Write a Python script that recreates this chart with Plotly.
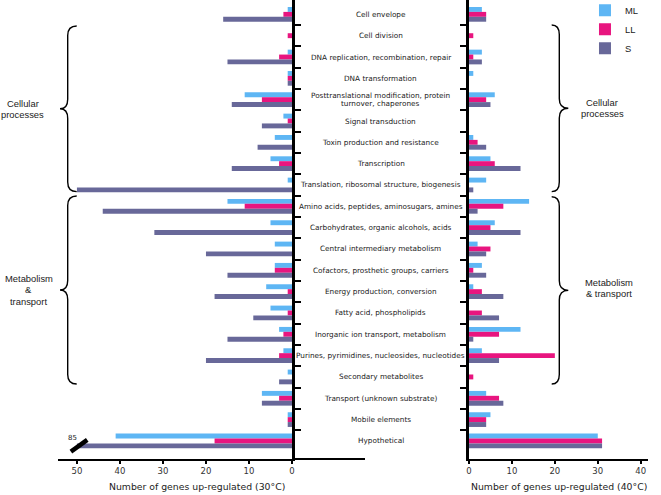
import plotly.graph_objects as go

# ---------------- data ----------------
categories = [
    "Cell envelope",
    "Cell division",
    "DNA replication, recombination, repair",
    "DNA transformation",
    "Posttranslational modification, protein<br>turnover, chaperones",
    "Signal transduction",
    "Toxin production and resistance",
    "Transcription",
    "Translation, ribosomal structure, biogenesis",
    "Amino acids, peptides, aminosugars, amines",
    "Carbohydrates, organic alcohols, acids",
    "Central intermediary metabolism",
    "Cofactors, prosthetic groups, carriers",
    "Energy production, conversion",
    "Fatty acid, phospholipids",
    "Inorganic ion transport, metabolism",
    "Purines, pyrimidines, nucleosides, nucleotides",
    "Secondary metabolites",
    "Transport (unknown substrate)",
    "Mobile elements",
    "Hypothetical",
]

series_names = ["ML", "LL", "S"]

# genes up-regulated at 30 °C (left panel)
ml_30 = [1, 0, 1, 1, 11, 2, 4, 5, 1, 15, 5, 4, 4, 6, 5, 3, 2, 1, 7, 1, 41]
ll_30 = [2, 1, 3, 1, 7, 1, 0, 3, 0, 11, 0, 0, 4, 1, 1, 2, 3, 0, 3, 1, 18]
s_30 = [16, 0, 15, 1, 14, 7, 8, 14, 50, 44, 32, 20, 15, 18, 9, 15, 20, 3, 7, 1, 85]

# genes up-regulated at 40 °C (right panel)
ml_40 = [3, 0, 3, 1, 6, 0, 1, 5, 4, 14, 6, 2, 3, 1, 0, 12, 3, 0, 4, 5, 30]
ll_40 = [4, 1, 1, 0, 4, 0, 2, 6, 0, 8, 5, 5, 1, 3, 3, 7, 20, 1, 7, 4, 31]
s_40 = [4, 0, 3, 0, 5, 0, 4, 12, 1, 2, 12, 4, 4, 8, 7, 1, 7, 0, 8, 4, 31]

x_ticks_30 = [0, 10, 20, 30, 40, 50]
x_ticks_40 = [0, 10, 20, 30, 40]

axis_titles = ["Number of genes up-regulated (30°C)", "Number of genes up-regulated (40°C)"]
group_labels_left = ["Cellular<br>processes", "Metabolism<br>&<br>transport"]
group_labels_right = ["Cellular<br>processes", "Metabolism<br>& transport"]

BREAK_AT = 50  # axis break for very long bars

colors = {"ML": "#5EB6F4", "LL": "#E8157F", "S": "#686899"}

# ---------------- figure ----------------
W, H = 661, 495
PLOT_BOTTOM = 459
pos = list(range(len(categories)))


def px_x(p):
    return p / W


def px_y(p):
    return (PLOT_BOTTOM - p) / PLOT_BOTTOM


fig = go.Figure()

left_vals = {"ML": ml_30, "LL": ll_30, "S": s_30}
right_vals = {"ML": ml_40, "LL": ll_40, "S": s_40}

for name in series_names:
    shown = [min(v, BREAK_AT) for v in left_vals[name]]
    fig.add_trace(go.Bar(
        x=shown, y=pos, orientation="h", name=name,
        marker=dict(color=colors[name], line=dict(width=0)),
        xaxis="x", yaxis="y", legendgroup=name, showlegend=True,
    ))
for name in series_names:
    fig.add_trace(go.Bar(
        x=right_vals[name], y=pos, orientation="h", name=name,
        marker=dict(color=colors[name], line=dict(width=0)),
        xaxis="x2", yaxis="y2", legendgroup=name, showlegend=False,
    ))

tick_font = dict(family="DejaVu Sans", size=8.5, color="#333333")
title_font = dict(family="DejaVu Sans", size=9.3, color="#222222")
y_range = [20.847, -0.673]
boundaries = [i + 0.5 for i in range(len(categories) - 1)]

common_x = dict(
    ticks="outside", ticklen=3, tickwidth=1.5, tickcolor="black",
    showline=True, linewidth=2, linecolor="black", showgrid=False, zeroline=False,
    tickfont=tick_font,
)
common_y = dict(
    range=y_range, domain=[0, 1],
    tickvals=boundaries, showticklabels=False, ticks="outside", ticklen=6,
    tickwidth=1.5, tickcolor="black",
    showline=True, linewidth=2.5, linecolor="black", showgrid=False, zeroline=False,
)

fig.update_layout(
    width=W, height=H,
    margin=dict(l=0, r=0, t=0, b=H - PLOT_BOTTOM, autoexpand=False),
    paper_bgcolor="white", plot_bgcolor="white",
    barmode="group", bargap=0.31, bargroupgap=0,
    xaxis=dict(domain=[px_x(58), px_x(292)], range=[54.4, 0], anchor="y",
               tickvals=x_ticks_30, **common_x),
    xaxis2=dict(domain=[px_x(469), px_x(648)], range=[0, 41.7], anchor="y2",
                tickvals=x_ticks_40, **common_x),
    yaxis=dict(anchor="x", side="right", **common_y),
    yaxis2=dict(anchor="x2", side="left", **common_y),
    legend=dict(
        x=0.885, y=1.009, xanchor="left", yanchor="top",
        font=dict(family="Liberation Sans", size=9.4, color="#222222"),
        bgcolor="rgba(0,0,0,0)", itemwidth=30, tracegroupgap=0,
    ),
    showlegend=True,
)

# baseline of the left panel continues a little under the label column
fig.add_shape(type="line", xref="paper", yref="paper",
              x0=px_x(292), x1=px_x(365), y0=0, y1=0,
              line=dict(color="black", width=2))

# axis titles
fig.add_annotation(x=px_x(196.7), y=px_y(486.7), xref="paper", yref="paper",
                   text=axis_titles[0], showarrow=False, xanchor="center",
                   yanchor="middle", font=title_font)
fig.add_annotation(x=px_x(558.5), y=px_y(486.7), xref="paper", yref="paper",
                   text=axis_titles[1], showarrow=False, xanchor="center",
                   yanchor="middle", font=title_font)


def add_multiline(text, x, y, font, spacing, xref="paper", yref="y"):
    lines = text.split("<br>")
    n = len(lines)
    for k, line in enumerate(lines):
        shift = ((n - 1) / 2 - k) * spacing
        fig.add_annotation(
            x=x, y=y, xref=xref, yref=yref, text=line, showarrow=False,
            xanchor="center", yanchor="middle", yshift=shift, font=font,
        )


# category labels in the centre column
label_font = dict(family="DejaVu Sans", size=7.3, color="#222222")
center_x = px_x(380.5)
for i, cat in enumerate(categories):
    add_multiline(cat, center_x, i, label_font, 8.0)


# curly braces
def brace_path(spine, tip, hook, y0, y1, r):
    s, t, h = px_x(spine), px_x(tip), px_x(hook)
    m = (y0 + y1) / 2
    return (
        f"M {h},{y0} Q {s},{y0} {s},{y0 + r} "
        f"L {s},{m - r} Q {s},{m} {t},{m} "
        f"Q {s},{m} {s},{m + r} "
        f"L {s},{y1 - r} Q {s},{y1} {h},{y1}"
    )


brace_line = dict(color="black", width=1.4)
braces = [
    (67.7, 60.0, 76.7, 0.545, 8.31),
    (67.7, 60.0, 76.7, 8.515, 17.33),
    (559.3, 568.3, 551.7, 0.50, 8.31),
    (559.3, 568.3, 551.7, 8.55, 17.33),
]
for spine, tip, hook, y0, y1 in braces:
    fig.add_shape(type="path", xref="paper", yref="y",
                  path=brace_path(spine, tip, hook, y0, y1, 0.45), line=brace_line)

group_font = dict(family="Liberation Sans", size=9.4, color="#222222")
add_multiline(group_labels_left[0], px_x(22.5), (0.545 + 8.31) / 2, group_font, 10.8)
add_multiline(group_labels_left[1], px_x(28.5), (8.515 + 17.33) / 2, group_font, 11.3)
add_multiline(group_labels_right[0], px_x(602), (0.50 + 8.31) / 2, group_font, 10.8)
add_multiline(group_labels_right[1], px_x(609), (8.55 + 17.33) / 2 - 0.1, group_font, 11.0)

# axis break marker for bars longer than the axis
for i, v in enumerate(s_30):
    if v > BREAK_AT:
        fig.add_shape(type="line", xref="x", yref="y",
                      x0=BREAK_AT + 1.4, y0=i + 0.5, x1=BREAK_AT - 2.4, y1=i - 0.05,
                      line=dict(color="black", width=4.5))
        fig.add_annotation(x=BREAK_AT + 1.0, y=i - 0.14, xref="x", yref="y",
                           text=str(v), showarrow=False, xanchor="center", yanchor="middle",
                           font=dict(family="DejaVu Sans", size=7, color="#222222"))

fig.write_html(
    "out.html",
    config={"displayModeBar": False},
    post_script="document.body.style.margin='0px'; document.body.style.overflow='hidden';",
)
